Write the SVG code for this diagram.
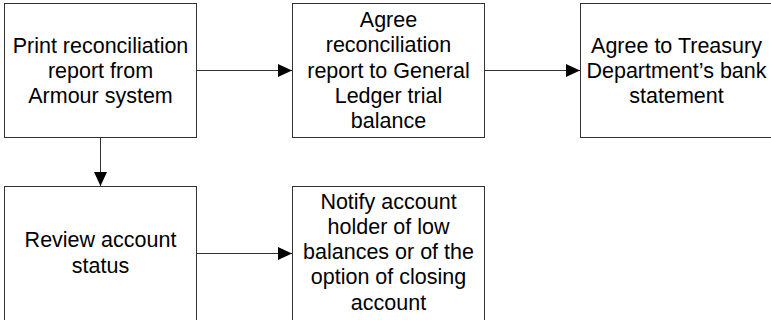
<svg xmlns="http://www.w3.org/2000/svg" width="771" height="320" viewBox="0 0 771 320">
<style>
.box{fill:#fff;stroke:#333;stroke-width:1}
.t{font-family:"Liberation Sans",Arial,sans-serif;font-size:21.5px;fill:#000;text-anchor:middle}
.c{stroke:#333;stroke-width:1;fill:none}
</style>
<defs>
<marker id="ah" markerWidth="14" markerHeight="13" refX="14" refY="6.5" orient="auto" markerUnits="userSpaceOnUse">
<path d="M0,0 L14,6.5 L0,13 Z" fill="#000"/>
</marker>
</defs>
<rect width="771" height="320" fill="#fff"/>
<g id="connectors">
<line class="c" x1="196.5" y1="70.5" x2="292" y2="70.5" marker-end="url(#ah)"/>
<line class="c" x1="484.5" y1="70.5" x2="580" y2="70.5" marker-end="url(#ah)"/>
<line class="c" x1="100.5" y1="138" x2="100.5" y2="186" marker-end="url(#ah)"/>
<line class="c" x1="196.5" y1="253.5" x2="292" y2="253.5" marker-end="url(#ah)"/>
</g>
<g id="n1">
<rect class="box" x="4.5" y="3.5" width="192" height="134"/>
<text class="t" x="100.5" y="52.5">Print reconciliation</text>
<text class="t" x="100.5" y="77.5">report from</text>
<text class="t" x="100.5" y="102.5">Armour system</text>
</g>
<g id="n2">
<rect class="box" x="292.5" y="3.5" width="192" height="134"/>
<text class="t" x="388.5" y="27">Agree</text>
<text class="t" x="388.5" y="52.3">reconciliation</text>
<text class="t" x="388.5" y="77.6">report to General</text>
<text class="t" x="388.5" y="102.9">Ledger trial</text>
<text class="t" x="388.5" y="128.2">balance</text>
</g>
<g id="n3">
<rect class="box" x="580.5" y="3.5" width="192" height="134"/>
<text class="t" x="676.5" y="52.5">Agree to Treasury</text>
<text class="t" x="676.5" y="77.5">Department’s bank</text>
<text class="t" x="676.5" y="102.5">statement</text>
</g>
<g id="n4">
<rect class="box" x="4.5" y="186.5" width="192" height="134"/>
<text class="t" x="100.5" y="247">Review account</text>
<text class="t" x="100.5" y="272.5">status</text>
</g>
<g id="n5">
<rect class="box" x="292.5" y="186.5" width="192" height="134"/>
<text class="t" x="388.5" y="208.5">Notify account</text>
<text class="t" x="388.5" y="233.8">holder of low</text>
<text class="t" x="388.5" y="259.1">balances or of the</text>
<text class="t" x="388.5" y="284.4">option of closing</text>
<text class="t" x="388.5" y="309.7">account</text>
</g>
</svg>
